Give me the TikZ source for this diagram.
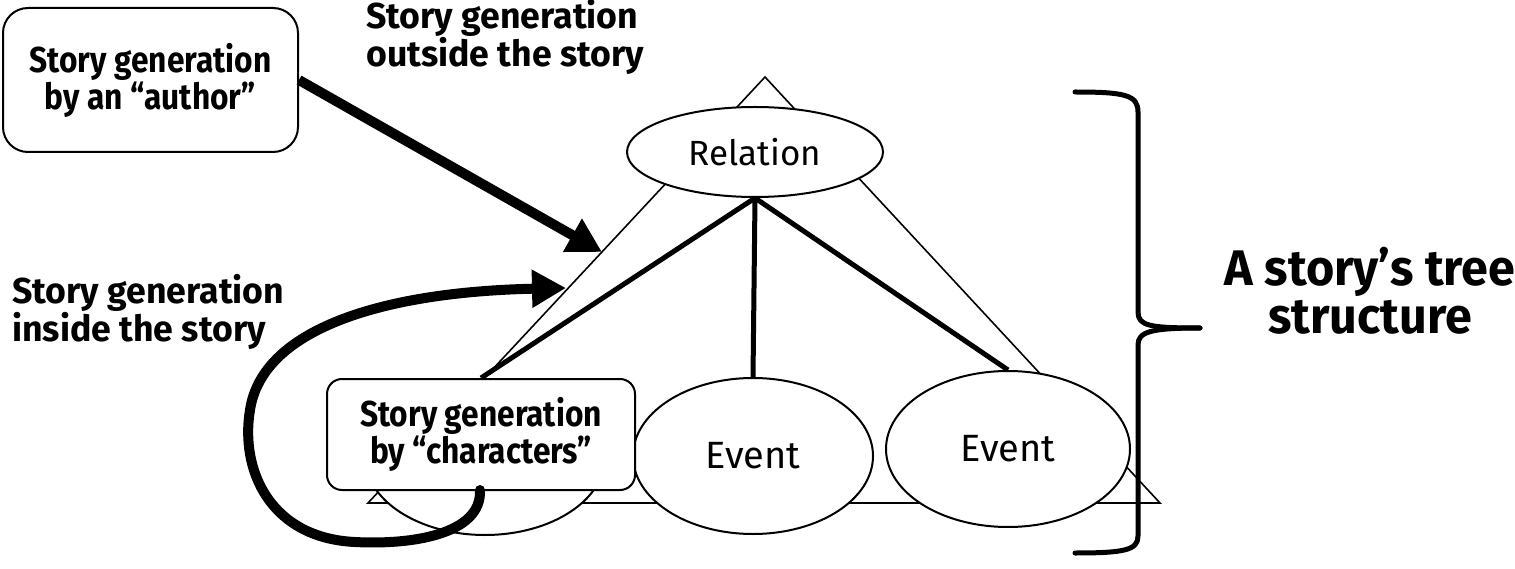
\documentclass[tikz,border=0pt]{standalone}
\usepackage{fontspec}
\setmainfont{Fira Sans}
\newfontfamily\lblfont{Fira Sans}[FakeStretch=0.88]
\newfontfamily\widefont{Fira Sans}[FakeStretch=0.99]
\newfontfamily\titlefont{Fira Sans}[FakeStretch=0.97]
\usetikzlibrary{shapes.geometric,arrows.meta}
\tikzset{
  lbl/.style={font={\lblfont\bfseries\fontsize{36}{37}\selectfont}, inner sep=0pt},
  freelbl/.style={font={\widefont\bfseries\fontsize{36}{37.5}\selectfont}, inner sep=0pt},
  bigl/.style={font={\titlefont\bfseries\fontsize{50}{48.5}\selectfont}, inner sep=0pt, align=center},
  ell/.style={ellipse, draw, line width=2pt, fill=white, inner sep=0pt},
  rbox/.style={draw, line width=2pt, fill=white, align=center, inner sep=0pt},
  thin/.style={line width=1.6pt},
  tree/.style={line width=5pt},
  bigarrow/.style={line width=10pt, -{Triangle[length=34pt,width=36pt]}},
  bracel/.style={line width=5pt, line cap=round, line join=round}
}
\begin{document}
\begin{tikzpicture}[x=1pt,y=-1pt]
\useasboundingbox (0,0) rectangle (1515,569);
% big thin triangle
\coordinate (apex) at (765,77);
\coordinate (bl) at (368,503);
\coordinate (br) at (1160,503);
\draw[thin, line join=miter] (apex) -- (bl) -- (br) -- cycle;
% ellipses
\node[ell, minimum width=240, minimum height=156] (e1) at (485,457) {};
\node[ell, minimum width=240, minimum height=156, font={\fontsize{38}{40}\selectfont}] (e2) at (753,456) {Event};
\node[ell, minimum width=244, minimum height=156, font={\fontsize{38}{40}\selectfont}] (e3) at (1008,449) {Event};
\node[ell, minimum width=256, minimum height=90, font={\fontsize{35}{38}\selectfont}] (rel) at (755,152) {Relation};
% characters box
\node[rbox, rounded corners=15pt, minimum width=308, minimum height=111, lbl, align=center] (chars) at (481,434.5) {Story generation\\by \textquotedblleft characters\textquotedblright};
% tree lines
\draw[tree] (rel.south) -- (chars.north);
\draw[tree] (rel.south) -- (e2.north);
\draw[tree] (rel.south) -- (e3.north);
% author box
\node[rbox, rounded corners=25pt, minimum width=295, minimum height=144, lbl, align=center] (author) at (150.5,80) {Story generation\\by an \textquotedblleft author\textquotedblright};
% labels
\node[freelbl, align=left, anchor=west] (outside) at (366,37) {Story generation\\outside the story};
\node[freelbl, align=left, anchor=west] (inside) at (12,312) {Story generation\\inside the story};
\node[bigl] (title) at (1370,291) {A story\textquoteright s tree\\structure};
% arrows
\coordinate (tipA) at (602,252);
\coordinate (tipB) at (566,288);
\draw[bigarrow] (author.east) -- (tipA);
\coordinate (loopstart) at (480,490);
\draw[bigarrow, line cap=round] (loopstart) .. controls (482,535) and (410,545) .. (355,542)
  .. controls (270,538) and (240,470) .. (250,410)
  .. controls (262,330) and (380,292) .. (tipB);
% brace
\draw[bracel] (1075,92) .. controls (1125,92) and (1138,95) .. (1138,112) -- (1138,312)
  .. controls (1138,326) and (1150,328) .. (1200,328);
\draw[bracel] (1200,328) .. controls (1150,328) and (1138,332) .. (1138,345) -- (1138,536)
  .. controls (1138,550) and (1125,553) .. (1075,553);
\end{tikzpicture}
\end{document}
